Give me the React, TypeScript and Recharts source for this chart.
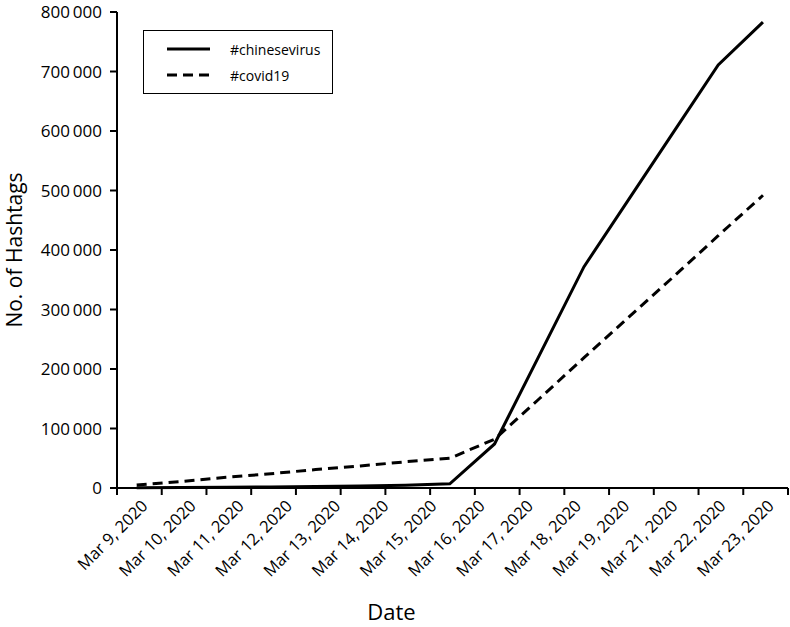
import { LineChart, Line, XAxis, YAxis, Legend } from "recharts";

// one entry per day in the data (Mar 20 is in the data but has no label)
const dates = [
  "Mar 9, 2020", "Mar 10, 2020", "Mar 11, 2020", "Mar 12, 2020", "Mar 13, 2020",
  "Mar 14, 2020", "Mar 15, 2020", "Mar 16, 2020", "Mar 17, 2020", "Mar 18, 2020",
  "Mar 19, 2020", "Mar 20, 2020", "Mar 21, 2020", "Mar 22, 2020", "Mar 23, 2020",
];
const chinesevirus = [
  500, 800, 1200, 1700, 2400, 3300, 4500, 7000, 74000, 223000, 372000, 485000, 598000, 711000, 783000,
];
const covid19 = [
  5000, 11000, 18000, 24000, 31000, 37000, 44000, 50000, 82000, 150000, 219000, 287000, 355000, 424000, 492000,
];

// labels printed under the axis, spread evenly from first to last point
const tickLabels = [
  "Mar 9, 2020", "Mar 10, 2020", "Mar 11, 2020", "Mar 12, 2020", "Mar 13, 2020",
  "Mar 14, 2020", "Mar 15, 2020", "Mar 16, 2020", "Mar 17, 2020", "Mar 18, 2020",
  "Mar 19, 2020", "Mar 21, 2020", "Mar 22, 2020", "Mar 23, 2020",
];
const yTicks = [0, 100000, 200000, 300000, 400000, 500000, 600000, 700000, 800000];

const series = [
  { key: "chinesevirus", name: "#chinesevirus", dash: undefined as string | undefined },
  { key: "covid19", name: "#covid19", dash: "10 6" },
];

const data = dates.map((date, i) => ({
  k: i,
  date,
  chinesevirus: chinesevirus[i],
  covid19: covid19[i],
}));

const FONT = "'Open Sans', sans-serif";
const xMin = -0.44;
const xMax = dates.length - 1 + 0.56;

// tick marks sit on day boundaries, labels sit on their own even spacing
const boundaryTicks = Array.from({ length: dates.length + 1 }, (_, j) => xMin + j);
const labelTicks = tickLabels.map((_, i) => (i * (dates.length - 1)) / (tickLabels.length - 1));
const labelFor = new Map(labelTicks.map((v, i) => [v, tickLabels[i]]));

const XTick = (props: any) => {
  const { x, y, payload } = props;
  const label = labelFor.get(payload.value);
  if (label === undefined) {
    return <line x1={x} x2={x} y1={y} y2={y + 7} stroke="#000" strokeWidth={2} />;
  }
  const ax = x + 12;
  const ay = y + 19;
  return (
    <text
      x={ax}
      y={ay}
      transform={`rotate(-45, ${ax}, ${ay})`}
      textAnchor="end"
      fontSize={16.5}
      fontFamily={FONT}
      fill="#000"
    >
      {label}
    </text>
  );
};

const formatY = (v: number) => (v === 0 ? "0" : `${v / 1000}\u2009000`);

const LegendBox = () => (
  <div
    style={{
      width: 190,
      height: 64,
      boxSizing: "border-box",
      border: "1.5px solid #000",
      background: "#fff",
      fontFamily: FONT,
      fontSize: 14,
    }}
  >
    {series.map((s, i) => (
      <div key={s.key} style={{ position: "absolute", left: 0, top: 19 + i * 26 - 9, height: 18, display: "flex", alignItems: "center" }}>
        <svg width={90} height={18}>
          <line x1={24} x2={67} y1={9} y2={9} stroke="#000" strokeWidth={3} strokeDasharray={s.dash} />
        </svg>
        <span style={{ marginLeft: -3 }}>{s.name}</span>
      </div>
    ))}
  </div>
);

const App = () => {
  return (
    <div style={{ position: "absolute", left: 0, top: 0, background: "#fff" }}>
      <LineChart width={790} height={627} data={data} margin={{ top: 12, right: 2, bottom: 0, left: 0 }}>
        <XAxis
          dataKey="k"
          type="number"
          domain={[xMin, xMax]}
          ticks={[...boundaryTicks, ...labelTicks].sort((a, b) => a - b)}
          interval={0}
          tickLine={false}
          tickSize={0}
          tickMargin={0}
          tick={<XTick />}
          axisLine={{ stroke: "#000", strokeWidth: 2 }}
          height={139}
          label={{ value: "Date", position: "insideBottom", offset: 7, dx: -61, fontSize: 22, fill: "#000", fontFamily: FONT }}
        />
        <YAxis
          type="number"
          domain={[0, 800000]}
          ticks={yTicks}
          interval={0}
          width={117}
          tickFormatter={formatY}
          tickSize={7}
          tickMargin={8}
          tickLine={{ stroke: "#000", strokeWidth: 2 }}
          axisLine={{ stroke: "#000", strokeWidth: 2 }}
          tick={{ fill: "#000", fontSize: 17, fontFamily: FONT }}
          label={{ value: "No. of Hashtags", angle: -90, position: "center", dx: -44, fontSize: 21, fill: "#000", fontFamily: FONT }}
        />
        <Legend
          layout="horizontal"
          verticalAlign="middle"
          align="center"
          wrapperStyle={{ position: "absolute", left: 143, top: 30, width: 190, height: 64 }}
          content={<LegendBox />}
        />
        {series.map((s) => (
          <Line
            key={s.key}
            type="linear"
            dataKey={s.key}
            name={s.name}
            stroke="#000"
            strokeWidth={3}
            strokeDasharray={s.dash}
            dot={false}
            activeDot={false}
            isAnimationActive={false}
          />
        ))}
      </LineChart>
    </div>
  );
};

export default App;
